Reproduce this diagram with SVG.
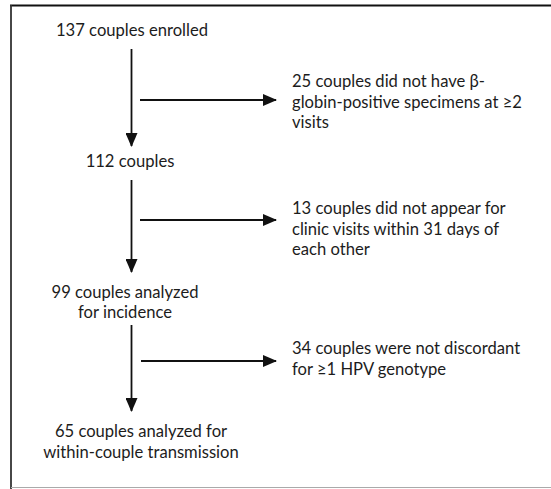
<svg xmlns="http://www.w3.org/2000/svg" width="551" height="489" viewBox="0 0 551 489">
  <style>
    .t { font-family: Lato, "Open Sans", "Liberation Sans", sans-serif; font-size: 16.6px; fill: #1c1c1c; }
    .c { text-anchor: middle; }
    .flow { stroke: #111; stroke-width: 1.8; fill: none; marker-end: url(#head); }
  </style>
  <defs>
    <marker id="head" markerUnits="userSpaceOnUse" markerWidth="14" markerHeight="12" viewBox="0 0 14 12" refX="13" refY="6" orient="auto">
      <path d="M0,0 L14,6 L0,12 Z" fill="#111"/>
    </marker>
  </defs>

  <!-- frame -->
  <rect x="0" y="0" width="551" height="489" fill="#ffffff"/>
  <line x1="10" y1="5.5" x2="551" y2="5.5" stroke="#111" stroke-width="2"/>
  <line x1="11" y1="5" x2="11" y2="489" stroke="#333" stroke-width="1.8"/>
  <line x1="11" y1="487.5" x2="551" y2="487.5" stroke="#aaa" stroke-width="1.2"/>

  <!-- connectors -->
  <g id="connectors">
    <line class="flow" x1="131.5" y1="49" x2="131.5" y2="146"/>
    <line class="flow" x1="140" y1="100" x2="276" y2="100"/>
    <line class="flow" x1="131.5" y1="180" x2="131.5" y2="272"/>
    <line class="flow" x1="140" y1="220" x2="276" y2="220"/>
    <line class="flow" x1="131.5" y1="325" x2="131.5" y2="411"/>
    <line class="flow" x1="141" y1="361" x2="276" y2="361"/>
  </g>

  <!-- main flow -->
  <g id="enrolled">
    <text class="t c" x="132" y="36">137 couples enrolled</text>
  </g>
  <g id="couples112">
    <text class="t c" x="130" y="167">112 couples</text>
  </g>
  <g id="incidence">
    <text class="t c" x="125" y="298">99 couples analyzed</text>
    <text class="t c" x="125" y="318">for incidence</text>
  </g>
  <g id="transmission">
    <text class="t c" x="141" y="437">65 couples analyzed for</text>
    <text class="t c" x="141" y="458">within-couple transmission</text>
  </g>

  <!-- exclusions -->
  <g id="excl-globin">
    <text class="t" x="292" y="87">25 couples did not have β-</text>
    <text class="t" x="292" y="108">globin-positive specimens at ≥2</text>
    <text class="t" x="292" y="128">visits</text>
  </g>
  <g id="excl-visits">
    <text class="t" x="292" y="214">13 couples did not appear for</text>
    <text class="t" x="292" y="235">clinic visits within 31 days of</text>
    <text class="t" x="292" y="255">each other</text>
  </g>
  <g id="excl-discordant">
    <text class="t" x="292" y="354">34 couples were not discordant</text>
    <text class="t" x="292" y="375">for ≥1 HPV genotype</text>
  </g>
</svg>
